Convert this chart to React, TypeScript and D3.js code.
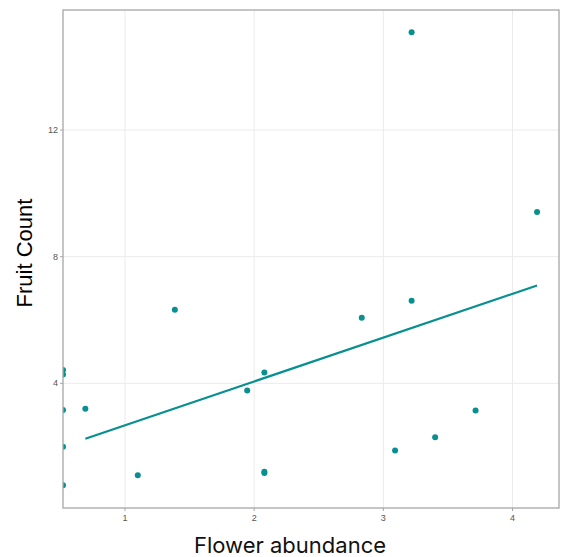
import React from "react";
import * as d3 from "d3";

const flowerAbundance = [0.52, 0.52, 0.52, 0.52, 0.52, 0.693, 1.099, 1.386, 1.946, 2.079, 2.079, 2.079, 2.833, 3.091, 3.219, 3.219, 3.401, 3.714, 4.19];
const fruitCount = [4.42, 4.28, 3.16, 2.0, 0.78, 3.2, 1.1, 6.32, 3.77, 4.34, 1.21, 1.17, 6.07, 1.88, 6.61, 15.09, 2.3, 3.14, 9.41];
const fitX = [0.693, 4.19];
const fitY = [2.25, 7.09];
const xTicks = [1, 2, 3, 4];
const yTicks = [4, 8, 12];

const W = 561;
const H = 557;
const left = 63;
const right = 559;
const top = 10;
const bottom = 508;
const teal = "#088f8f";

export default function App() {
  const x = d3.scaleLinear().domain([0.52, 4.36]).range([left, right]);
  const y = d3.scaleLinear().domain([0.063, 15.79]).range([bottom, top]);
  const line = d3
    .line<number>()
    .x((_, i) => x(fitX[i]))
    .y((d) => y(d));
  return (
    <svg width={W} height={H} style={{ position: "absolute", left: 0, top: 0, background: "#fff" }}>
      <defs>
        <clipPath id="panel">
          <rect x={left} y={top} width={right - left} height={bottom - top} />
        </clipPath>
      </defs>
      <rect x={0} y={0} width={W} height={H} fill="#fff" />
      {xTicks.map((t) => (
        <line key={"gx" + t} x1={x(t)} x2={x(t)} y1={top} y2={bottom} stroke="#ebebeb" strokeWidth={1} />
      ))}
      {yTicks.map((t) => (
        <line key={"gy" + t} x1={left} x2={right} y1={y(t)} y2={y(t)} stroke="#ebebeb" strokeWidth={1} />
      ))}
      <g clipPath="url(#panel)">
        {flowerAbundance.map((v, i) => (
          <circle key={i} cx={x(v)} cy={y(fruitCount[i])} r={3} fill={teal} />
        ))}
        <path d={line(fitY) || ""} fill="none" stroke={teal} strokeWidth={2.2} />
      </g>
      <rect x={left} y={top} width={right - left} height={bottom - top} fill="none" stroke="#a6a6a6" strokeWidth={1.3} />
      {xTicks.map((t) => (
        <g key={"tx" + t}>
          <line x1={x(t)} x2={x(t)} y1={bottom} y2={bottom + 3} stroke="#a6a6a6" />
          <text x={x(t)} y={bottom + 13} textAnchor="middle" fontSize={9} fill="#555" fontFamily="Liberation Sans, Arial, sans-serif">
            {t}
          </text>
        </g>
      ))}
      {yTicks.map((t) => (
        <g key={"ty" + t}>
          <line x1={left - 3} x2={left} y1={y(t)} y2={y(t)} stroke="#a6a6a6" />
          <text x={left - 5} y={y(t)} dy="0.35em" textAnchor="end" fontSize={9} fill="#555" fontFamily="Liberation Sans, Arial, sans-serif">
            {t}
          </text>
        </g>
      ))}
      <text
        transform={`translate(32,253) rotate(-90)`}
        textAnchor="middle"
        fontSize={22}
        fill="#000"
        fontFamily="Liberation Sans, Arial, sans-serif"
      >
        Fruit Count
      </text>
      <text x={290} y={553} textAnchor="middle" fontSize={22} fill="#111" fontFamily="Inter, Open Sans, sans-serif">
        Flower abundance
      </text>
    </svg>
  );
}
